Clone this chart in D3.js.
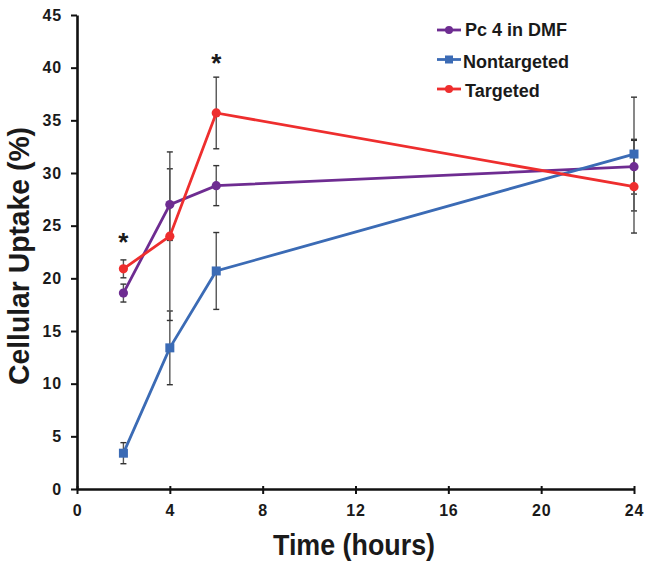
<!DOCTYPE html>
<html>
<head>
<meta charset="utf-8">
<script src="https://cdn.jsdelivr.net/npm/d3@7"></script>
<style>
  html, body { margin: 0; padding: 0; background: #fff; }
  svg text { font-family: "Liberation Sans", Arial, sans-serif; font-weight: bold; fill: #1a1a1a; }
</style>
</head>
<body>
<svg id="chart" width="651" height="563"></svg>
<script>
// ---- data ----
const hours = [2, 4, 6, 24];
const seriesNames = ["Pc 4 in DMF", "Nontargeted", "Targeted"];
const pc4Values = [18.6, 27.0, 28.8, 30.6];
const pc4Errors = [0.85, 3.4, 1.9, 2.6];
const nontargetedValues = [3.4, 13.4, 20.7, 31.8];
const nontargetedErrors = [1.0, 3.5, 3.65, 5.4];
const targetedValues = [20.9, 24.0, 35.7, 28.7];
const targetedErrors = [0.85, 8.0, 3.4, 4.4];
const xTicks = [0, 4, 8, 12, 16, 20, 24];
const yTicks = [0, 5, 10, 15, 20, 25, 30, 35, 40, 45];
const asteriskHours = [2, 6];
const asteriskLevels = [23.8, 40.8];

const colors = ["#6E2C91", "#3B6BB5", "#EE2E2E"];
const shapes = ["circle", "square", "circle"];

const svg = d3.select("#chart");
const x = d3.scaleLinear().domain([0, 24]).range([77, 634]);
const y = d3.scaleLinear().domain([0, 45]).range([489, 15]);

// axes
const yAxis = svg.append("g").attr("transform", `translate(${x(0)},0)`)
  .call(d3.axisLeft(y).tickValues(yTicks).tickSize(6).tickPadding(9).tickSizeOuter(0));
const xAxis = svg.append("g").attr("transform", `translate(0,${y(0)})`)
  .call(d3.axisBottom(x).tickValues(xTicks).tickSize(5).tickPadding(11).tickSizeOuter(0));
[yAxis, xAxis].forEach(g => {
  g.select(".domain").attr("stroke", "#111").attr("stroke-width", 2.6);
  g.selectAll(".tick line").attr("stroke", "#111").attr("stroke-width", 2);
  g.selectAll(".tick text").attr("font-size", 16).attr("fill", "#1a1a1a")
    .style("font-family", "'Liberation Sans', Arial, sans-serif").style("font-weight", "bold")
    .style("letter-spacing", "0.8px");
});
xAxis.selectAll(".tick line").attr("y1", -3);

// axis titles
svg.append("text").attr("x", 354).attr("y", 555).attr("text-anchor", "middle")
  .attr("font-size", 30).attr("textLength", 162).attr("lengthAdjust", "spacingAndGlyphs")
  .text("Time (hours)");
svg.append("text").attr("transform", "translate(29,256) rotate(-90)").attr("text-anchor", "middle")
  .attr("font-size", 29).attr("textLength", 258).attr("lengthAdjust", "spacingAndGlyphs")
  .text("Cellular Uptake (%)");

const series = [
  { name: seriesNames[0], values: pc4Values, errors: pc4Errors },
  { name: seriesNames[1], values: nontargetedValues, errors: nontargetedErrors },
  { name: seriesNames[2], values: targetedValues, errors: targetedErrors }
];

// error bars
const eg = svg.append("g");
series.forEach(s => {
  hours.forEach((h, i) => {
    const cx = x(h), lo = y(s.values[i] - s.errors[i]), hi = y(s.values[i] + s.errors[i]);
    eg.append("line").attr("x1", cx).attr("x2", cx).attr("y1", lo).attr("y2", hi)
      .attr("stroke", "#555").attr("stroke-width", 1.4);
    [lo, hi].forEach(yy => eg.append("line").attr("x1", cx - 3).attr("x2", cx + 3)
      .attr("y1", yy).attr("y2", yy).attr("stroke", "#333").attr("stroke-width", 1.4));
  });
});

// lines and markers
const line = d3.line().x((d, i) => x(hours[i])).y(d => y(d));
series.forEach((s, k) => {
  const g = svg.append("g");
  g.append("path").attr("d", line(s.values)).attr("fill", "none")
    .attr("stroke", colors[k]).attr("stroke-width", 2.8);
  s.values.forEach((v, i) => {
    if (shapes[k] === "circle") {
      g.append("circle").attr("cx", x(hours[i])).attr("cy", y(v)).attr("r", 4.6).attr("fill", colors[k]);
    } else {
      g.append("rect").attr("x", x(hours[i]) - 4.5).attr("y", y(v) - 4.5)
        .attr("width", 9).attr("height", 9).attr("fill", colors[k]);
    }
  });
});

// asterisks
asteriskHours.forEach((h, i) => {
  svg.append("text").attr("x", x(h)).attr("y", y(asteriskLevels[i]) + 13)
    .attr("text-anchor", "middle").attr("font-size", 26).text("*");
});

// legend
const legend = svg.append("g");
const legendLineY = [30, 59.5, 89];
const legendTextY = [36, 67.5, 96.5];
seriesNames.forEach((n, k) => {
  const ly = legendLineY[k];
  legend.append("line").attr("x1", 437).attr("x2", 461).attr("y1", ly).attr("y2", ly)
    .attr("stroke", colors[k]).attr("stroke-width", 2.8);
  if (shapes[k] === "circle") {
    legend.append("circle").attr("cx", 449).attr("cy", ly).attr("r", 4).attr("fill", colors[k]);
  } else {
    legend.append("rect").attr("x", 445).attr("y", ly - 4).attr("width", 8).attr("height", 8).attr("fill", colors[k]);
  }
  legend.append("text").attr("x", k === 1 ? 463 : 465).attr("y", legendTextY[k])
    .attr("font-size", 18).text(n);
});
</script>
</body>
</html>
